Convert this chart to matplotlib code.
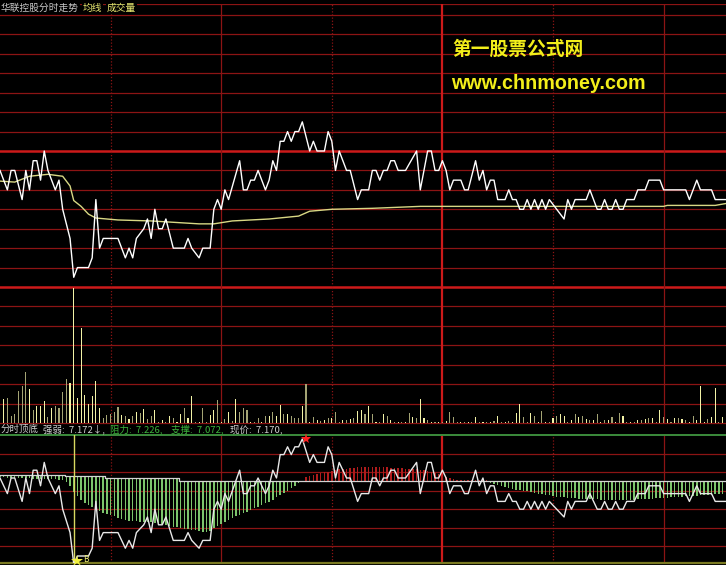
import numpy as np
import matplotlib
matplotlib.use("Agg")
import matplotlib.pyplot as plt
from matplotlib.transforms import offset_copy

plt.rcParams['font.family'] = ['Noto Sans CJK SC', 'DejaVu Sans']

# ---------------- data ----------------
title_name = "华联控股分时走势"
title_avg = "均线"
title_vol = "成交量"
site_cn = "第一股票公式网"
site_url = "www.chnmoney.com"

prev_close = 7.22

price_minutes = [0, 2, 3, 4, 6, 7, 8, 9, 10, 11,
                 12, 13, 15, 16, 17, 19, 20, 21, 24, 25,
                 26, 27, 28, 32, 34, 35, 36, 37, 39, 40,
                 41, 42, 43, 44, 45, 47, 50, 51, 52, 54,
                 55, 57, 58, 59, 60, 61, 62, 65, 66, 67,
                 68, 69, 70, 72, 73, 74, 75, 76, 77, 78,
                 79, 80, 81, 82, 84, 85, 86, 88, 89, 90,
                 91, 92, 94, 95, 97, 98, 100, 101, 102, 103,
                 104, 105, 106, 107, 108, 110, 113, 114, 116, 117,
                 118, 119, 120, 121, 122, 123, 125, 126, 127, 129,
                 130, 131, 132, 133, 134, 135, 137, 138, 139, 140,
                 141, 142, 143, 144, 145, 146, 147, 148, 149, 151,
                 153, 154, 155, 156, 159, 160, 161, 162, 163, 164,
                 165, 166, 167, 168, 169, 170, 172, 173, 175, 176,
                 179, 180, 186, 187, 189, 190, 193, 194, 197]
price_values = [7.20, 7.18, 7.20, 7.20, 7.17, 7.20, 7.18, 7.21, 7.21, 7.19,
                7.22, 7.20, 7.18, 7.19, 7.16, 7.13, 7.09, 7.10, 7.10, 7.11,
                7.17, 7.12, 7.13, 7.13, 7.11, 7.12, 7.11, 7.13, 7.14, 7.15,
                7.13, 7.16, 7.14, 7.14, 7.15, 7.12, 7.12, 7.13, 7.12, 7.11,
                7.12, 7.12, 7.16, 7.17, 7.16, 7.18, 7.17, 7.21, 7.18, 7.18,
                7.19, 7.19, 7.20, 7.18, 7.19, 7.21, 7.20, 7.23, 7.23, 7.24,
                7.23, 7.24, 7.24, 7.25, 7.22, 7.23, 7.22, 7.22, 7.24, 7.23,
                7.20, 7.22, 7.20, 7.20, 7.17, 7.18, 7.18, 7.20, 7.20, 7.19,
                7.20, 7.20, 7.21, 7.21, 7.20, 7.20, 7.22, 7.18, 7.22, 7.22,
                7.20, 7.20, 7.21, 7.20, 7.18, 7.19, 7.19, 7.18, 7.18, 7.21,
                7.19, 7.20, 7.18, 7.19, 7.19, 7.17, 7.17, 7.18, 7.17, 7.17,
                7.16, 7.16, 7.17, 7.16, 7.17, 7.16, 7.17, 7.16, 7.17, 7.16,
                7.15, 7.17, 7.16, 7.17, 7.17, 7.18, 7.17, 7.16, 7.16, 7.17,
                7.16, 7.16, 7.17, 7.16, 7.16, 7.17, 7.17, 7.18, 7.18, 7.19,
                7.19, 7.18, 7.18, 7.17, 7.19, 7.18, 7.18, 7.17, 7.17]

avg_minutes = [0, 4, 8, 13, 17, 19, 20, 22, 24, 26, 32, 41, 54, 58,
               63, 68, 73, 81, 84, 90, 101, 114, 121, 180, 181, 194, 197]
avg_values = [7.189, 7.188, 7.194, 7.196, 7.194, 7.184, 7.169, 7.163, 7.155,
              7.151, 7.149, 7.148, 7.145, 7.145, 7.148, 7.149, 7.150, 7.153,
              7.158, 7.160, 7.161, 7.163, 7.163, 7.163, 7.164, 7.164, 7.166]

volume_minutes = list(range(1, 197))
volume_values = [1200, 1250, 350, 450, 1600, 1850, 2550, 1700, 650, 850,
                 850, 1100, 300, 750, 850, 750, 1550, 2200, 2000, 6750,
                 1250, 4750, 1400, 950, 1350, 2100, 750, 250, 400, 450,
                 550, 800, 400, 350, 200, 350, 550, 500, 700, 200,
                 350, 650, 50, 150, 50, 350, 250, 50, 450, 750,
                 250, 1350, 50, 50, 750, 50, 400, 650, 1150, 50,
                 200, 550, 100, 1200, 550, 750, 650, 50, 50, 250,
                 50, 350, 350, 550, 350, 900, 450, 450, 350, 250,
                 250, 850, 1950, 50, 300, 150, 100, 150, 250, 250,
                 550, 50, 150, 150, 200, 250, 600, 650, 450, 850,
                 450, 50, 50, 450, 350, 150, 50, 50, 50, 50,
                 500, 300, 250, 1200, 250, 150, 50, 50, 50, 50,
                 100, 550, 300, 50, 50, 50, 50, 50, 300, 50,
                 50, 50, 50, 100, 350, 50, 50, 100, 50, 500,
                 950, 300, 50, 500, 350, 50, 600, 50, 50, 250,
                 350, 450, 350, 50, 150, 450, 300, 350, 200, 150,
                 150, 450, 50, 150, 150, 300, 50, 500, 350, 50,
                 50, 50, 150, 150, 200, 250, 250, 50, 650, 300,
                 200, 50, 250, 250, 200, 150, 50, 350, 150, 1850,
                 50, 200, 300, 1750, 50, 300]
volume_tone = ("yooooooyoy" "yyoyooooyy" "yyyyyyyooo" "ooyoyoyoyo"
               "oyoyoyoyyo" "yyoyooyyoy" "oyoyoooyoo" "yoyoyyoyoo"
               "oyoyoyoyoy" "ooyoyoyyoy" "oyoyoyoyoy" "oyoyyoyoyo"
               "yoooyoyoyo" "yoyoyoyoyy" "yooyoyoyoy" "oyyoyoyoyo"
               "yoyoyoyoyo" "yoyoyoyoyo" "yoyoyoyoyy" "yoyyoy")

osc_minutes = list(range(0, 198))
osc_base = [7.204] * 18 + [7.203] * 11 + [7.200] * 20 + [7.196] * 149
osc_end = ([7.201, 7.201, 7.200, 7.200, 7.200, 7.200, 7.200, 7.200, 7.200,
            7.199, 7.199, 7.199, 7.199, 7.199, 7.199, 7.199, 7.198, 7.198]
           + [7.195, 7.190, 7.182, 7.177, 7.172, 7.168, 7.165, 7.163, 7.160, 7.158,
              7.155, 7.154, 7.153, 7.151, 7.149, 7.147, 7.146, 7.145, 7.145, 7.145,
              7.144, 7.144, 7.144, 7.143, 7.142, 7.142, 7.141, 7.140, 7.138, 7.137,
              7.137, 7.136, 7.135, 7.134, 7.133, 7.133, 7.132, 7.131, 7.131, 7.132,
              7.136, 7.138, 7.141, 7.144, 7.146, 7.149, 7.151, 7.153, 7.155, 7.157,
              7.159, 7.162, 7.163, 7.165, 7.168, 7.169, 7.172, 7.176, 7.178, 7.181,
              7.183, 7.187, 7.190, 7.194, 7.196]
           + [7.201, 7.203, 7.204, 7.205, 7.206, 7.208, 7.208, 7.209, 7.210, 7.211,
              7.212, 7.212, 7.213]
           + [7.213, 7.214, 7.214, 7.214, 7.214, 7.214, 7.214, 7.214, 7.214, 7.214,
              7.213, 7.213, 7.213]
           + [7.213, 7.212, 7.212, 7.212, 7.211, 7.210, 7.210, 7.209, 7.208, 7.206,
              7.205, 7.203, 7.201, 7.200, 7.199]
           + [7.197] * 9
           + [7.194, 7.192, 7.191, 7.190, 7.188, 7.187, 7.186, 7.185, 7.185, 7.183,
              7.183, 7.182, 7.181, 7.180, 7.179, 7.178, 7.178, 7.177, 7.176, 7.176,
              7.176, 7.175, 7.174, 7.174]
           + [7.173] * 6 + [7.172] * 10 + [7.173] * 5 + [7.174] * 4
           + [7.176] * 4 + [7.177] * 4 + [7.178] * 4 + [7.179] * 4)

buy_minute, buy_price = 20, 7.09
sell_minute, sell_price = 83, 7.25

ind_name = "分时顶底"
ind_labels = ["强弱", "阻力", "支撑", "现价"]
ind_values = [7.172, 7.226, 7.072, 7.170]
ind_suffix = ["↓,", ",", ",", ","]

# ---------------- layout / style ----------------
W, H = 726, 565
PX_PER_MIN = 110.6 / 30.0
GRID = '#8c1414'
GRID_THICK = '#cc1a1a'
BG = 'black'

fig = plt.figure(figsize=(W / 100, H / 100), dpi=100, facecolor=BG)


def add_panel(top, bottom):
    ax = fig.add_axes([0, 1 - bottom / H, 1, (bottom - top) / H])
    ax.set_facecolor(BG)
    ax.axis('off')
    ax.set_xlim(0, W / PX_PER_MIN)
    return ax


def vgrid(ax):
    for m in [30, 60, 90, 120, 150, 180]:
        if m == 120:
            ax.axvline(m, color=GRID_THICK, lw=1.6, zorder=1)
        elif m in (60, 180):
            ax.axvline(m, color=GRID, lw=0.9, zorder=1)
        else:
            ax.axvline(m, color=GRID, lw=0.9, ls=(0, (1, 1.5)), zorder=1)


# price panel
ax_p = add_panel(4, 287)
ax_p.set_ylim(7.08, 7.08 + 0.28 * 283 / 272)
for k in range(15):
    y = 7.08 + 0.02 * k
    thick = (k == 0) or abs(y - prev_close) < 1e-9
    ax_p.axhline(y, color=GRID_THICK if thick else GRID,
                 lw=1.8 if thick else 0.9, zorder=1, clip_on=False)
ax_p.axhline(ax_p.get_ylim()[1], color=GRID, lw=0.9, zorder=1)
vgrid(ax_p)
ax_p.plot(avg_minutes, avg_values, color='#d8d884', lw=1.0, zorder=3)
ax_p.plot(price_minutes, price_values, color='white', lw=1.0, zorder=4)

# volume panel
ax_v = add_panel(287, 423)
vtop = 6800
ax_v.set_ylim(0, vtop)
for k in range(7):
    ax_v.axhline(vtop * k / 7, color=GRID, lw=0.9, zorder=1, clip_on=False)
vgrid(ax_v)
vcols = ['#f2f2a6' if t == 'y' else '#a4a474' for t in volume_tone]
ax_v.bar(volume_minutes, volume_values, width=0.3, color=vcols,
         linewidth=0, zorder=3)

# indicator panel
ax_i = add_panel(434.5, 563)
ilo, ihi = 7.09103, 7.25577
ax_i.set_ylim(ilo, ihi)
for k in range(6):
    ax_i.axhline(7.2308 - 0.0237 * k, color=GRID, lw=0.9, zorder=1)
ax_i.axhline(ihi, color='#3c8c3c', lw=1.4, zorder=2, clip_on=False)
ax_i.axhline(ilo, color='#7a7a22', lw=1.6, zorder=2, clip_on=False)
vgrid(ax_i)
base = np.array(osc_base)
end = np.array(osc_end)
ocols = ['#7cc46c' if e < b else '#b01c1c' for e, b in zip(end, base)]
ax_i.bar(osc_minutes, end - base, bottom=base, width=0.4, color=ocols,
         linewidth=0, zorder=2)
ax_i.plot(osc_minutes, osc_base, color='#d4d4d4', lw=0.9,
          drawstyle='steps-mid', zorder=3)
ax_i.axvline(buy_minute, color='#d8d860', lw=1.0, zorder=3)
ax_i.plot(price_minutes, price_values, color='#e8e8e8', lw=1.0, zorder=4)
star_tr = offset_copy(ax_i.transData, fig=fig, x=3, y=3, units='dots')
ax_i.plot(buy_minute, buy_price, marker='*', color='#f0f040', ms=9,
          clip_on=False, zorder=6, markeredgewidth=0, transform=star_tr)
ax_i.annotate("B", (buy_minute, buy_price), xytext=(7, 3),
              textcoords='offset points', color='#e8e870', fontsize=6,
              va='center', ha='left', annotation_clip=False, zorder=6)
ax_i.plot(sell_minute, sell_price, marker='*', color='#ff2020', ms=8,
          clip_on=False, zorder=6, markeredgewidth=0)


# ---------------- texts ----------------
def ftext(xp, yp, s, color, size=7, box=True, **kw):
    extra = dict(bbox=dict(facecolor=BG, edgecolor='none', pad=0.6)) if box else {}
    return fig.text(xp / W, 1 - yp / H, s, color=color, fontsize=size,
                    va='center', ha='left', **extra, **kw)


ftext(1, 8, title_name, '#c8c8c8')
ftext(83, 8, title_avg, '#e8e870')
ftext(107, 8, title_vol, '#e8e870')

ftext(1, 429, ind_name, '#d0d0d0', size=6.8, box=False)
ind_x = [43, 110, 171, 230]
ind_col = ['#d0d0d0', '#3cb43c', '#3cb43c', '#d0d0d0']
for x0, lab, val, suf, c in zip(ind_x, ind_labels, ind_values, ind_suffix, ind_col):
    ftext(x0, 429, f"{lab}:  {val:.3f}{suf}", c, size=6.8, box=False)

fig.text(452 / W, 1 - 49 / H, site_cn, color='#f2ee1a', fontsize=13.5,
         fontweight='bold', va='center', ha='left')
fig.text(451 / W, 1 - 89 / H, site_url, color='#f2ee1a', fontsize=14.2,
         fontweight='bold', va='baseline', ha='left', family='Liberation Sans')

fig.savefig('out.png', dpi=100, facecolor=BG)
